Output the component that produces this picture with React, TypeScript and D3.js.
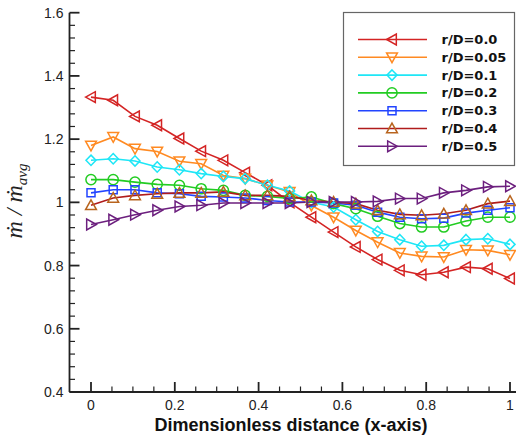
import React from "react";
import * as d3 from "d3";

// Sampling positions along the wall (dimensionless)
const positions = [
  0, 0.053, 0.105, 0.158, 0.211, 0.263, 0.316, 0.368, 0.421, 0.474,
  0.526, 0.579, 0.632, 0.684, 0.737, 0.789, 0.842, 0.895, 0.947, 1,
];

const rD00 = [1.333, 1.323, 1.272, 1.244, 1.202, 1.162, 1.133, 1.094, 1.054, 1.0, 0.953, 0.906, 0.859, 0.819, 0.785, 0.771, 0.779, 0.795, 0.79, 0.759];
const rD005 = [1.18, 1.207, 1.17, 1.161, 1.13, 1.122, 1.085, 1.075, 1.054, 1.033, 0.99, 0.953, 0.911, 0.874, 0.84, 0.829, 0.827, 0.85, 0.848, 0.834];
const rD01 = [1.133, 1.138, 1.131, 1.112, 1.103, 1.091, 1.082, 1.075, 1.054, 1.036, 1.0, 0.985, 0.945, 0.908, 0.882, 0.861, 0.864, 0.882, 0.885, 0.867];
const rD02 = [1.072, 1.072, 1.064, 1.057, 1.054, 1.043, 1.038, 1.022, 1.019, 1.012, 1.017, 0.996, 0.98, 0.956, 0.933, 0.922, 0.922, 0.941, 0.953, 0.953];
const rD03 = [1.03, 1.04, 1.04, 1.03, 1.027, 1.019, 1.017, 1.014, 1.006, 1.001, 1.001, 0.998, 0.991, 0.969, 0.953, 0.948, 0.95, 0.966, 0.975, 0.983];
const rD04 = [0.991, 1.014, 1.022, 1.027, 1.03, 1.03, 1.033, 1.022, 1.022, 1.019, 1.006, 1.001, 0.996, 0.975, 0.962, 0.959, 0.964, 0.975, 0.996, 1.004];
const rD05 = [0.93, 0.945, 0.961, 0.975, 0.987, 0.991, 0.998, 0.998, 0.998, 0.998, 1.001, 1.001, 1.001, 1.003, 1.012, 1.012, 1.03, 1.038, 1.049, 1.051];

const seriesLabels = ["r/D=0.0", "r/D=0.05", "r/D=0.1", "r/D=0.2", "r/D=0.3", "r/D=0.4", "r/D=0.5"];
const seriesValues = [rD00, rD005, rD01, rD02, rD03, rD04, rD05];
const lineColors = ["#d42424", "#ff8a22", "#1ee6f6", "#22cc22", "#2244ff", "#b01c1c", "#6c1f7e"];
const markerColors = ["#d42424", "#ff8a22", "#1ee6f6", "#22cc22", "#2244ff", "#b8641e", "#6c1f7e"];
const markerShapes = ["triLeft", "triDown", "diamond", "circle", "square", "triUp", "triRight"];

const xTickValues = [0, 0.2, 0.4, 0.6, 0.8, 1];
const xTickLabels = ["0", "0.2", "0.4", "0.6", "0.8", "1"];
const yTickValues = [0.4, 0.6, 0.8, 1, 1.2, 1.4, 1.6];
const yTickLabels = ["0.4", "0.6", "0.8", "1", "1.2", "1.4", "1.6"];

const W = 516;
const H = 438;

function markerPath(shape: string): string {
  const t = 5.4; // triangle half-size
  switch (shape) {
    case "triUp":
      return `M0,${-t}L${t},${t * 0.8}L${-t},${t * 0.8}Z`;
    case "triDown":
      return `M0,${t}L${t},${-t * 0.8}L${-t},${-t * 0.8}Z`;
    case "triLeft":
      return `M${-t},0L${t * 0.8},${-t}L${t * 0.8},${t}Z`;
    case "triRight":
      return `M${t},0L${-t * 0.8},${-t}L${-t * 0.8},${t}Z`;
    case "diamond":
      return "M0,-5.2L5,0L0,5.2L-5,0Z";
    case "square":
      return "M-4,-4H4V4H-4Z";
    case "circle":
    default:
      return d3.symbol(d3.symbolCircle, 82)() as string;
  }
}

export default function App() {
  const x = d3.scaleLinear().domain([0, 1]).range([91, 510]);
  const y = d3.scaleLinear().domain([0.4, 1.6]).range([392, 12.7]);
  const x0 = 69.5;
  const y0 = 392;

  const line = d3
    .line<number>()
    .x((_, i) => x(positions[i]))
    .y((d) => y(d));

  const xMinor = d3.range(-0.05, 1.0501, 0.05).filter((v) => Math.abs(Math.round(v / 0.2) * 0.2 - v) > 1e-6 && v > -0.04);
  const yMinor = d3.range(0.4, 1.6001, 0.04).filter((v) => Math.abs(Math.round(v / 0.2) * 0.2 - v) > 1e-6);

  const legendX = 343.5;
  const legendY = 12.5;
  const legendRow0 = 39.5;
  const legendStep = 17.8;

  return (
    <svg width={W} height={H} style={{ position: "absolute", left: 0, top: 0, background: "#fff" }}>
      <rect width={W} height={H} fill="#fff" />

      {/* series lines */}
      {seriesValues.map((vals, s) => (
        <path key={"l" + s} d={line(vals) as string} fill="none" stroke={lineColors[s]} strokeWidth={1.6} />
      ))}
      {/* series markers */}
      {seriesValues.map((vals, s) => (
        <g key={"m" + s}>
          {vals.map((v, i) => (
            <path
              key={i}
              d={markerPath(markerShapes[s])}
              transform={`translate(${x(positions[i])},${y(v)})`}
              fill="none"
              stroke={markerColors[s]}
              strokeWidth={1.5}
            />
          ))}
        </g>
      ))}

      {/* axes */}
      <g stroke="#222" strokeWidth={1.8} fill="none">
        <line x1={x0} y1={y(1.6)} x2={x0} y2={y0} />
        <line x1={x0} y1={y0} x2={W} y2={y0} />
        {yTickValues.map((v) => (
          <line key={"yt" + v} x1={x0} x2={x0 + 10} y1={y(v)} y2={y(v)} />
        ))}
        {yMinor.map((v, i) => (
          <line key={"ym" + i} x1={x0} x2={x0 + 5.5} y1={y(v)} y2={y(v)} strokeWidth={1.2} />
        ))}
        {xTickValues.map((v) => (
          <line key={"xt" + v} x1={x(v)} x2={x(v)} y1={y0} y2={y0 - 10} />
        ))}
        {xMinor.map((v, i) => (
          <line key={"xm" + i} x1={x(v)} x2={x(v)} y1={y0} y2={y0 - 5.5} strokeWidth={1.2} />
        ))}
      </g>

      {/* tick labels */}
      <g fontFamily="Liberation Sans, Arial, sans-serif" fontSize={14} fill="#222">
        {yTickValues.map((v, i) => (
          <text key={"yl" + v} x={63.5} y={y(v)} textAnchor="end" dominantBaseline="central">
            {yTickLabels[i]}
          </text>
        ))}
        {xTickValues.map((v, i) => (
          <text key={"xl" + v} x={x(v)} y={410} textAnchor="middle">
            {xTickLabels[i]}
          </text>
        ))}
      </g>

      {/* axis titles */}
      <text
        x={291}
        y={431}
        textAnchor="middle"
        fontFamily="Liberation Sans, Arial, sans-serif"
        fontWeight="bold"
        fontSize={18}
        fill="#111"
      >
        Dimensionless distance (x-axis)
      </text>
      <text
        transform="translate(22,201) rotate(-90)"
        textAnchor="middle"
        fontFamily="Liberation Serif, Times New Roman, serif"
        fontStyle="italic"
        fontSize={24}
        fill="#222"
      >
        ṁ / ṁ
        <tspan fontSize={15} dy={5}>avg</tspan>
      </text>

      {/* legend */}
      <rect x={legendX} y={legendY} width={171} height={153} fill="#fff" stroke="#666" strokeWidth={1.2} />
      {seriesLabels.map((lab, s) => {
        const cy = legendRow0 + s * legendStep;
        return (
          <g key={"lg" + s}>
            <line x1={358} x2={427} y1={cy} y2={cy} stroke={lineColors[s]} strokeWidth={1.6} />
            <path d={markerPath(markerShapes[s])} transform={`translate(392,${cy})`} fill="none" stroke={markerColors[s]} strokeWidth={1.5} />
            <text
              x={441.5}
              y={cy}
              dominantBaseline="central"
              fontFamily="DejaVu Sans, sans-serif"
              fontWeight="bold"
              fontSize={13}
              fill="#111"
            >
              {lab}
            </text>
          </g>
        );
      })}
    </svg>
  );
}
